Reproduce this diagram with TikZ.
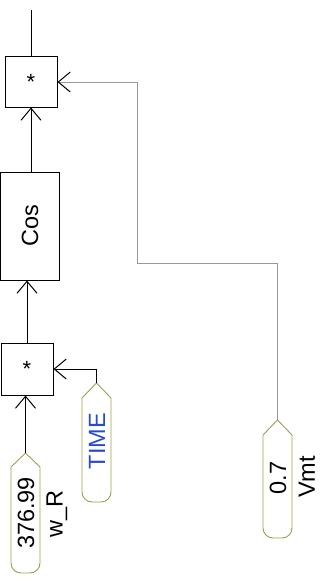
\documentclass[tikz,border=0pt]{standalone}
\usepackage{fontspec}
\setmainfont{Liberation Sans}
\usetikzlibrary{arrows.meta}
\definecolor{pillc}{rgb}{0.62,0.62,0.32}
\definecolor{wire}{rgb}{0.6,0.6,0.6}
\definecolor{tblue}{rgb}{0.15,0.3,0.8}
\tikzset{
  blk/.style={draw, line width=1pt, inner sep=0pt, font=\fontsize{22}{22}\selectfont},
  lbl/.style={inner sep=0pt, rotate=90, font=\fontsize{23.5}{23.5}\selectfont},
  conn/.style={line width=1pt, -{Straight Barb[length=12pt,width=20pt,line width=1pt,color=black]}},
  pill/.style={draw=pillc, line width=0.9pt},
}
\newcommand{\pillshape}[5]{% L R T S B
  \draw[pill] ({(#1+#2)/2},-#3) -- (#2,-#4) -- (#2,{-(#5-10)}) arc[start angle=0,end angle=-90,radius=10] -- ({#1+10},-#5) arc[start angle=270,end angle=180,radius=10] -- (#1,-#4) -- cycle;}
\begin{document}
\begin{tikzpicture}[x=1pt,y=1pt]
\useasboundingbox (0,0) rectangle (320,-581);
% blocks
\node[blk, minimum width=52pt, minimum height=51pt] (m1) at (31,-81.5) {\raisebox{-0.3em}{*}};
\node[blk, minimum width=58.5pt, minimum height=108pt] (cos) at (30,-226) {};
\node[lbl] (costxt) at (cos.center) {Cos};
\node[blk, minimum width=52pt, minimum height=52pt] (m2) at (27,-369) {\raisebox{-0.3em}{*}};
% pills
\pillshape{11}{40}{453}{467}{573}
\coordinate (wrtip) at (25.5,-453);
\node[lbl] (wrval) at (26,-513) {376.99};
\node[lbl] (wrname) at (57,-514) {w\_R};
\pillshape{82}{111}{383}{398}{502}
\coordinate (timetip) at (96.5,-383);
\node[lbl, text=tblue] (timetxt) at (97,-441) {TIME};
\pillshape{263}{292}{420}{435}{538}
\coordinate (vmttip) at (277.5,-420);
\node[lbl] (vmtval) at (278,-478) {0.7};
\node[lbl] (vmtname) at (307,-477) {Vmt};
% output
\coordinate (out) at (31,-10);
\draw[line width=1pt] (m1.north) -- (out);
% connectors
\draw[conn] (cos.north -| m1.south) -- (m1.south);
\draw[conn] (m2.north) -- (m2.north |- cos.south);
\draw[conn] (wrtip) -- (wrtip |- m2.south);
\draw[conn] (timetip) -- (timetip |- m2.east) -- (m2.east);
\draw[conn, draw=wire, line width=0.7pt] (vmttip) -- (277.5,-263) -- (137,-263) -- (137,-82) -- (m1.east |- 0,-82);
\end{tikzpicture}
\end{document}
